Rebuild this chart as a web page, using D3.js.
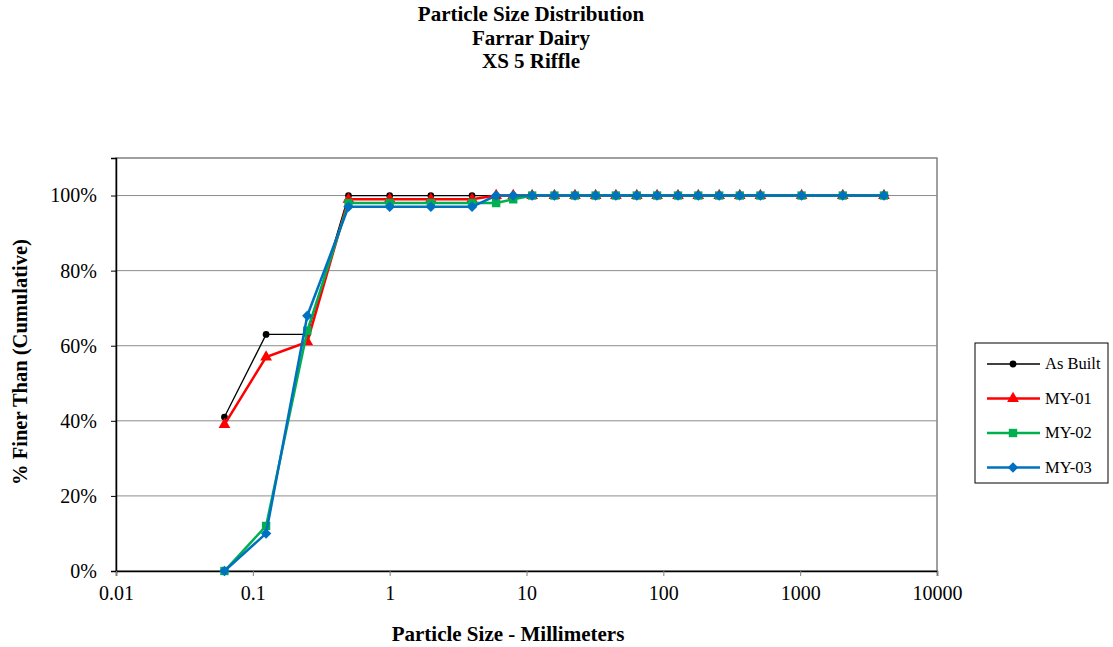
<!DOCTYPE html>
<html><head><meta charset="utf-8">
<script src="https://cdn.jsdelivr.net/npm/d3@7"></script>
<style>
body{margin:0;background:#fff;}
svg text{font-family:"Liberation Serif","Tinos","DejaVu Serif",serif !important;}
</style></head>
<body><svg id="c" width="1113" height="647"></svg>
<script>
const sizes = [0.062, 0.125, 0.25, 0.5, 1, 2, 4, 6, 8, 11, 16, 22.6, 32, 45, 64, 90, 128, 180, 256, 362, 512, 1024, 2048, 4096];
const asBuilt = [41, 63, 63, 100, 100, 100, 100, 100, 100, 100, 100, 100, 100, 100, 100, 100, 100, 100, 100, 100, 100, 100, 100, 100];
const my01 =    [39, 57, 61, 99, 99, 99, 99, 100, 100, 100, 100, 100, 100, 100, 100, 100, 100, 100, 100, 100, 100, 100, 100, 100];
const my02 =    [0, 12, 64, 98, 98, 98, 98, 98, 99, 100, 100, 100, 100, 100, 100, 100, 100, 100, 100, 100, 100, 100, 100, 100];
const my03 =    [0, 10, 68, 97, 97, 97, 97, 100, 100, 100, 100, 100, 100, 100, 100, 100, 100, 100, 100, 100, 100, 100, 100, 100];
const seriesNames = ["As Built", "MY-01", "MY-02", "MY-03"];
const xTicks = [0.01, 0.1, 1, 10, 100, 1000, 10000];
const yTicks = [0, 20, 40, 60, 80, 100];
const titleLines = ["Particle Size Distribution", "Farrar Dairy", "XS 5 Riffle"];

const FONT = '"Liberation Serif","Tinos","DejaVu Serif",serif';
const svg = d3.select("#c");
const L = 116, R = 937, T = 158, B = 571;
const x = d3.scaleLog().domain([0.01, 10000]).range([L, R]);
const y = d3.scaleLinear().domain([0, 110]).range([B, T]);

svg.append("rect").attr("x", L).attr("y", T).attr("width", R - L).attr("height", B - T)
  .attr("fill", "none").attr("stroke", "#808080").attr("stroke-width", 1.5);
svg.append("g").selectAll("line").data(yTicks.filter(d => d > 0)).join("line")
  .attr("x1", L).attr("x2", R).attr("y1", d => y(d)).attr("y2", d => y(d))
  .attr("stroke", "#8c8c8c").attr("stroke-width", 1);

const yAxis = d3.axisLeft(y).tickValues(yTicks).tickFormat(d => d + "%").tickSizeOuter(0).tickSize(5).tickPadding(14);
const gy = svg.append("g").attr("transform", `translate(${L},0)`).call(yAxis).attr("font-family", FONT);
gy.select(".domain").attr("stroke", "#000").attr("stroke-width", 1.5);
gy.selectAll(".tick line").attr("stroke", "#000");
gy.selectAll("text").attr("font-size", 20).attr("fill", "#000");

const xAxis = d3.axisBottom(x).tickValues(xTicks).tickFormat(d => String(d)).tickSizeOuter(0).tickSize(5).tickPadding(10);
const gx = svg.append("g").attr("transform", `translate(0,${B})`).call(xAxis).attr("font-family", FONT);
gx.select(".domain").attr("stroke", "#000").attr("stroke-width", 1.5);
gx.selectAll(".tick line").attr("stroke", "#808080");
gx.selectAll("text").attr("font-size", 20).attr("fill", "#000");

svg.append("g").attr("font-family", FONT).selectAll("text").data(titleLines).join("text")
  .attr("x", 531).attr("y", (d, i) => 21 + i * 23.5).attr("text-anchor", "middle")
  .attr("font-size", 21).attr("font-weight", "bold").text(d => d);
svg.append("text").attr("font-family", FONT).attr("x", 508).attr("y", 641).attr("text-anchor", "middle")
  .attr("font-size", 21).attr("font-weight", "bold").text("Particle Size - Millimeters");
svg.append("text").attr("font-family", FONT).attr("transform", "translate(27,362) rotate(-90)").attr("text-anchor", "middle")
  .attr("font-size", 20.5).attr("font-weight", "bold").text("% Finer Than (Cumulative)");

const series = [
  {name: seriesNames[0], vals: asBuilt, color: "#000000", width: 1.3, sym: d3.symbolCircle, size: 36, rot: 0},
  {name: seriesNames[1], vals: my01, color: "#FF0000", width: 2.5, sym: d3.symbolTriangle, size: 60, rot: 0},
  {name: seriesNames[2], vals: my02, color: "#00B050", width: 2.5, sym: d3.symbolSquare, size: 70, rot: 0},
  {name: seriesNames[3], vals: my03, color: "#0070C0", width: 2.5, sym: d3.symbolSquare, size: 55, rot: 45}
];
const line = d3.line().x(d => x(d[0])).y(d => y(d[1]));
series.forEach(s => {
  const pts = sizes.map((v, i) => [v, s.vals[i]]);
  svg.append("path").datum(pts).attr("d", line).attr("fill", "none")
    .attr("stroke", s.color).attr("stroke-width", s.width);
  svg.append("g").selectAll("path").data(pts).join("path")
    .attr("transform", d => `translate(${x(d[0])},${y(d[1])}) rotate(${s.rot})`)
    .attr("d", d3.symbol().type(s.sym).size(s.size)).attr("fill", s.color);
});

const lg = svg.append("g").attr("font-family", FONT);
lg.append("rect").attr("x", 975).attr("y", 343).attr("width", 133).attr("height", 140)
  .attr("fill", "#fff").attr("stroke", "#000").attr("stroke-width", 1);
series.forEach((s, i) => {
  const yy = 364 + i * 34.5;
  lg.append("line").attr("x1", 987).attr("x2", 1040).attr("y1", yy).attr("y2", yy)
    .attr("stroke", s.color).attr("stroke-width", s.width);
  lg.append("path").attr("transform", `translate(1013,${yy}) rotate(${s.rot})`)
    .attr("d", d3.symbol().type(s.sym).size(s.size)).attr("fill", s.color);
  lg.append("text").attr("x", 1045).attr("y", yy + 5).attr("font-size", 16.5).text(s.name);
});
</script></body></html>
